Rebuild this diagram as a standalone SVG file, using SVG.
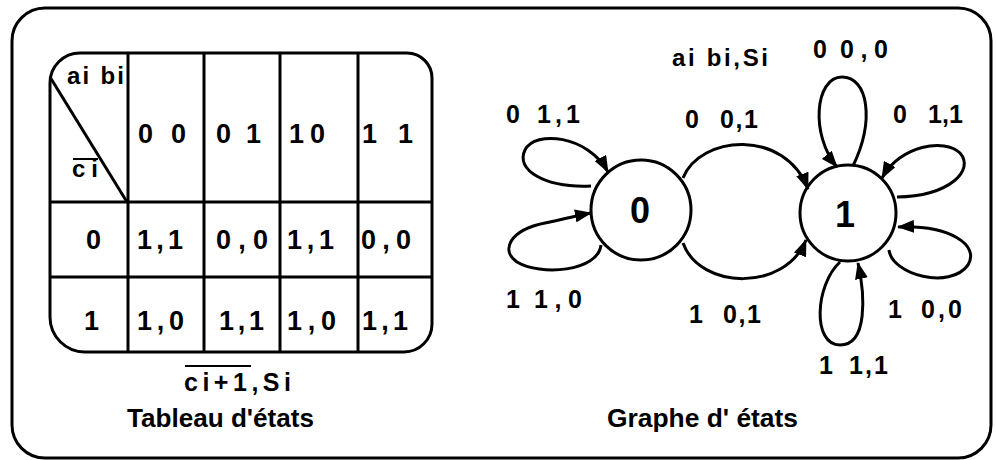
<svg xmlns="http://www.w3.org/2000/svg" width="996" height="460" viewBox="0 0 996 460">
<style>
.ln{fill:none;stroke:#000;stroke-width:3}
.t{font-family:"Liberation Sans",Arial,sans-serif;font-weight:bold;fill:#000}
.c{font-size:27px}
.g{font-size:25px}
.s{font-size:36px;text-anchor:middle}
.ti{font-size:26px}
</style>
<defs>
<marker id="ah" viewBox="0 0 17 13" refX="16" refY="6.5" markerWidth="17" markerHeight="13" markerUnits="userSpaceOnUse" orient="auto">
<path d="M0,0 L17,6.5 L0,13 Z" fill="#000"/>
</marker>
</defs>
<rect x="12" y="8" width="979" height="450" rx="33" class="ln"/>

<g id="table">
<path class="ln" d="M50,83 A30,30 0 0 1 80,53 L407,53 A25,25 0 0 1 432,78 L432,324 A28,28 0 0 1 404,352 L85,352 A35,35 0 0 1 50,317 Z"/>
<line class="ln" x1="128" y1="53" x2="128" y2="352"/>
<line class="ln" x1="204" y1="53" x2="204" y2="352"/>
<line class="ln" x1="280" y1="53" x2="280" y2="352"/>
<line class="ln" x1="358" y1="53" x2="358" y2="352"/>
<line class="ln" x1="50" y1="202" x2="432" y2="202"/>
<line class="ln" x1="50" y1="277" x2="432" y2="277"/>
<line class="ln" x1="50" y1="77" x2="127" y2="202"/>
<text class="t" x="67" y="84" font-size="24" textLength="57" lengthAdjust="spacing">ai bi</text>
<text class="t" x="72" y="177" font-size="24" textLength="26" lengthAdjust="spacing">ci</text>
<line x1="73" y1="159" x2="98" y2="159" stroke="#000" stroke-width="2"/>
<text class="t c" x="138" y="143" textLength="48" lengthAdjust="spacing">0 0</text>
<text class="t c" x="216" y="143" textLength="45" lengthAdjust="spacing">0 1</text>
<text class="t c" y="143"><tspan x="289">1</tspan><tspan x="310">0</tspan></text>
<text class="t c" x="362" y="143" textLength="51" lengthAdjust="spacing">1 1</text>
<text class="t c" x="86" y="249">0</text>
<text class="t c" x="137" y="249" textLength="46" lengthAdjust="spacing">1,1</text>
<text class="t c" x="216" y="249" textLength="52" lengthAdjust="spacing">0,0</text>
<text class="t c" x="287" y="249" textLength="47" lengthAdjust="spacing">1,1</text>
<text class="t c" x="361" y="249" textLength="50" lengthAdjust="spacing">0,0</text>
<text class="t c" x="84" y="330">1</text>
<text class="t c" x="137" y="330" textLength="47" lengthAdjust="spacing">1,0</text>
<text class="t c" x="219" y="330" textLength="45" lengthAdjust="spacing">1,1</text>
<text class="t c" x="287" y="330" textLength="49" lengthAdjust="spacing">1,0</text>
<text class="t c" x="362" y="330" textLength="46" lengthAdjust="spacing">1,1</text>
<text class="t" x="184" y="391" font-size="25" textLength="107" lengthAdjust="spacing">ci+1,Si</text>
<line x1="185" y1="366" x2="251" y2="366" stroke="#000" stroke-width="2"/>
<text class="t ti" x="127" y="427" textLength="187" lengthAdjust="spacingAndGlyphs">Tableau d'états</text>
</g>

<g id="state0">
<circle class="ln" cx="641" cy="210" r="50"/>
<text class="t s" x="640" y="223">0</text>
</g>
<g id="state1">
<circle class="ln" cx="848" cy="213" r="48"/>
<text class="t s" x="845" y="227">1</text>
</g>

<g id="connectors" class="ln" marker-end="url(#ah)">
<path d="M591,186 C545,188 515,170 525,150 C535,130 588,135 608,172"/>
<path d="M601,245 C598,272 540,276 517,262 C500,250 510,230 545,223 C560,220 575,216 591,213"/>
<path d="M683,178 C700,135 785,128 808,189"/>
<path d="M683,243 C700,290 785,292 806,240"/>
<path d="M853,166 C875,120 868,77 842,77 C815,77 810,135 837,167"/>
<path d="M897,197 C950,196 975,170 960,153 C945,138 900,145 882,178"/>
<path d="M889,250 C892,275 950,290 968,265 C980,245 950,225 898,227"/>
<path d="M840,262 C815,285 812,345 840,345 C868,345 865,295 858,263"/>
</g>

<g id="labels">
<text class="t" x="672" y="66" font-size="24" textLength="96" lengthAdjust="spacing">ai bi,Si</text>
<text class="t g" y="58"><tspan x="813">0</tspan><tspan x="840" textLength="48" lengthAdjust="spacing">0,0</tspan></text>
<text class="t g" y="123"><tspan x="506">0</tspan><tspan x="537" textLength="43" lengthAdjust="spacing">1,1</tspan></text>
<text class="t g" y="128"><tspan x="685">0</tspan><tspan x="720" textLength="38" lengthAdjust="spacing">0,1</tspan></text>
<text class="t g" y="123"><tspan x="893">0</tspan><tspan x="928" textLength="35" lengthAdjust="spacing">1,1</tspan></text>
<text class="t g" y="308"><tspan x="506">1</tspan><tspan x="534" textLength="48" lengthAdjust="spacing">1,0</tspan></text>
<text class="t g" y="323"><tspan x="689">1</tspan><tspan x="723" textLength="38" lengthAdjust="spacing">0,1</tspan></text>
<text class="t g" y="318"><tspan x="888">1</tspan><tspan x="921" textLength="41" lengthAdjust="spacing">0,0</tspan></text>
<text class="t g" y="374"><tspan x="819">1</tspan><tspan x="849" textLength="39" lengthAdjust="spacing">1,1</tspan></text>
<text class="t ti" x="607" y="427" textLength="191" lengthAdjust="spacingAndGlyphs">Graphe d' états</text>
</g>
</svg>
